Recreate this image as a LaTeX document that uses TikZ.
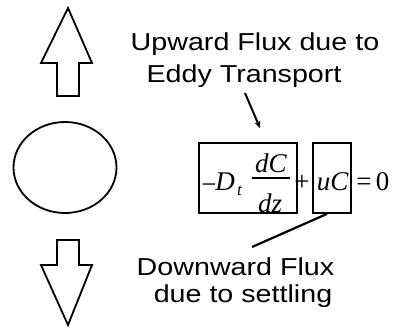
\documentclass[tikz,border=0pt]{standalone}
\usepackage{fontspec}
\setmainfont[FakeStretch=1.17]{Liberation Sans}
\newfontfamily\eqfont{Liberation Serif}
\usetikzlibrary{calc,arrows.meta,shapes.geometric}
\begin{document}
\begin{tikzpicture}[x=1pt,y=-1pt,
  lbl/.style={font=\fontsize{24.5}{26}\selectfont, inner sep=0pt, anchor=base},
  eq/.style={font=\eqfont\fontsize{27}{28}\selectfont\itshape, inner sep=0pt, anchor=base},
  equp/.style={font=\eqfont\fontsize{27}{28}\selectfont, inner sep=0pt, anchor=base},
  fluxbox/.style={draw, line width=1.8pt, inner sep=0pt},
  outline/.style={draw, line width=1.8pt, line join=miter}]
\useasboundingbox (0,0) rectangle (401,327);
% up arrow
\draw[outline] (68,8) -- (92,63) -- (79,63) -- (79,96) -- (57,96) -- (57,63) -- (41,63) -- cycle;
% particle
\node[draw, line width=1.8pt, ellipse, minimum width=103pt, minimum height=91pt, inner sep=0pt] (particle) at (65,167.5) {};
% down arrow
\draw[outline] (68,325) -- (92,265) -- (79,265) -- (79,240) -- (57,240) -- (57,265) -- (41,265) -- cycle;
% labels
\node[lbl] (up1) at (255,50) {Upward Flux due to};
\node[lbl] (up2) at (244,82) {Eddy Transport};
\node[lbl] (dn1) at (235.5,275) {Downward Flux};
\node[lbl] (dn2) at (243,302) {due to settling};
% boxes
\node[fluxbox, minimum width=98pt, minimum height=70pt] (box1) at (248,178) {};
\node[fluxbox, minimum width=38pt, minimum height=70pt] (box2) at (332,178) {};
% equation
\node[equp] (minus) at (209,193) {−};
\node[eq] (D) at (225,190) {D};
\node[eq, font=\eqfont\fontsize{17}{18}\selectfont\itshape] (t) at (239.5,195) {t};
\node[eq] (num) at (271,172) {dC};
\draw[line width=1.5pt] (252,178) -- (290,178);
\node[eq] (den) at (270,212) {dz};
\node[equp] (plus) at (302,190) {+};
\node[eq] (uC) at (332.5,190) {uC};
\node[equp] (equal) at (364,190) {=};
\node[equp] (zero) at (382.5,190) {0};
% pointers
\coordinate (p1s) at (245,93);
\coordinate (p1e) at (260,128);
\draw[line width=2pt, -{Stealth[length=7pt,width=6pt]}] (p1s) -- (p1e);
\coordinate (p2e) at (252,247);
\draw[line width=2.2pt] ($(box2.south)+(-5,0)$) -- (p2e);
\end{tikzpicture}
\end{document}
